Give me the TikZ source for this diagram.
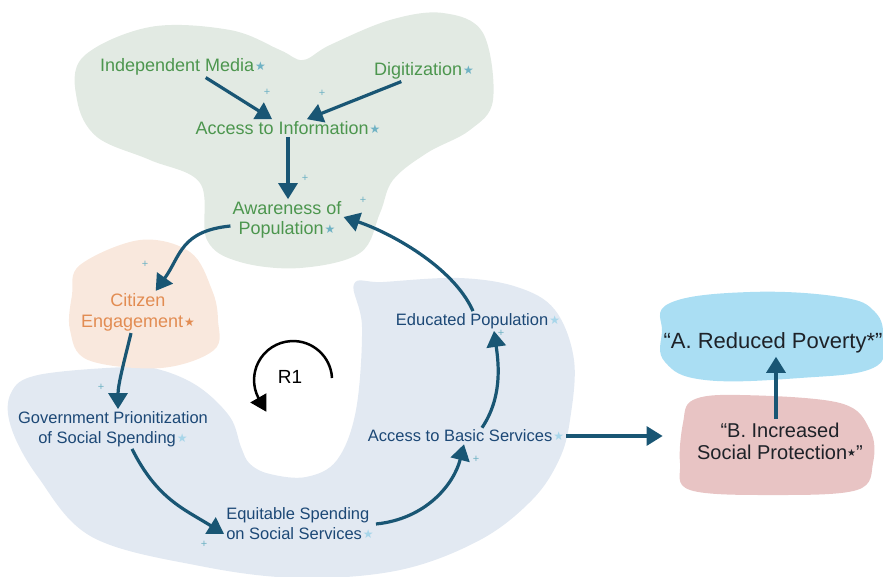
\documentclass[tikz,border=0pt]{standalone}
\usepackage{fontspec}
\setmainfont{Liberation Sans}
\newfontfamily\symfont{DejaVu Sans}
\usetikzlibrary{arrows.meta}
\definecolor{greenblob}{RGB}{226,234,227}
\definecolor{orangeblob}{RGB}{249,232,221}
\definecolor{blueblob}{RGB}{226,233,242}
\definecolor{povertyblob}{RGB}{170,222,243}
\definecolor{protectblob}{RGB}{232,196,196}
\definecolor{greenfont}{RGB}{76,150,78}
\definecolor{orangefont}{RGB}{226,140,82}
\definecolor{bluefont}{RGB}{28,72,118}
\definecolor{arrowblue}{RGB}{25,86,116}
\definecolor{starteal}{RGB}{111,178,196}
\definecolor{starblue}{RGB}{168,214,234}
\definecolor{darktext}{RGB}{30,34,40}
\newcommand{\tstar}[1]{\kern1pt{\color{#1}\symfont\fontsize{12}{12}\selectfont\raisebox{1pt}{★}}}

\begin{document}
\begin{tikzpicture}[x=1pt,y=-1pt,
  greentext/.style={text=greenfont,font=\fontsize{18}{20.5}\selectfont,align=center,inner sep=2pt},
  orangetext/.style={text=orangefont,font=\fontsize{18}{21}\selectfont,align=center,inner sep=2pt},
  bluetext/.style={text=bluefont,font=\fontsize{16.5}{20}\selectfont,align=center,inner sep=2pt},
  flow/.style={draw=arrowblue,line width=3.2pt,-{Triangle[length=16pt,width=19pt]}},
  plus/.style={text=starteal,font=\fontsize{11}{11}\selectfont,inner sep=0pt}]
\useasboundingbox (0,0) rectangle (883,577);

\fill[blueblob] plot[smooth cycle,tension=0.6] coordinates {(11,393) (38,375) (126,367) (161,370) (199,387) (230,417) (241,447) (250,464) (270,474) (306,477) (337,460) (356,410) (362,327) (354,284) (383,282) (459,278) (517,287) (555,310) (574,360) (570,420) (559,460) (532,500) (480,540) (400,570) (300,578) (200,566) (92,537) (38,477) (11,427)};
\fill[orangeblob] plot[smooth cycle,tension=0.6] coordinates {(80,265) (140,240) (190,252) (212,290) (218,320) (214,350) (161,368) (88,360) (70,330) (72,295)};
\fill[greenblob] plot[smooth cycle,tension=0.6] coordinates {(83,57) (150,27) (230,30) (280,50) (303,60) (330,45) (390,20) (443,13) (483,33) (493,100) (470,130) (427,153) (393,180) (380,213) (360,253) (300,268) (240,262) (207,240) (200,183) (150,160) (97,137) (77,100)};
\fill[povertyblob] plot[smooth cycle,tension=0.7] coordinates {(670,303) (750,292) (840,297) (875,312) (883,340) (873,368) (800,378) (705,380) (665,362) (662,332)};
\fill[protectblob] plot[smooth cycle,tension=0.6] coordinates {(693,400) (740,395) (840,403) (870,430) (873,463) (857,490) (773,495) (690,490) (680,463) (683,423)};

\node[greentext] (media) at (183,67) {Independent Media\tstar{starteal}};
\node[greentext] (digit) at (424,71) {Digitization\tstar{starteal}};
\node[greentext] (access) at (288,128) {Access to Information\tstar{starteal}};
\node[greentext] (aware) at (287,220) {Awareness of\\Population\tstar{starteal}};
\node[orangetext] (citizen) at (138,312) {Citizen\\Engagement\tstar{orangefont}};
\node[bluetext] (gov) at (113,429) {Government Prionitization\\of Social Spending\tstar{starblue}};
\node[bluetext,align=left] (equit) at (300,524) {Equitable Spending\\on Social Services\tstar{starblue}};
\node[bluetext] (basic) at (466,436) {Access to Basic Services\tstar{starblue}};
\node[bluetext] (educ) at (478,321) {Educated Population\tstar{starblue}};
\node[font=\fontsize{19}{19}\selectfont] (rone) at (290,377) {R1};
\node[text=darktext,font=\fontsize{22}{22}\selectfont] (poverty) at (773,343) {“A. Reduced Poverty*”};
\node[text=darktext,font=\fontsize{20}{22}\selectfont,align=center] (protect) at (780,441) {“B. Increased\\Social Protection{\symfont\fontsize{10}{10}\selectfont\raisebox{2.5pt}{★}}”};

\foreach \px/\py [count=\i] in {267/92,322/93,305/178,363/200,145/264,101/387,204/544,476/459,501/333}
{
  \node[plus] (plus\i) at (\px,\py) {+};
}

\draw[flow] (media.-25) -- (access.151);
\draw[flow] (digit.-155) -- (access.25);
\draw[flow] (access.south) -- (access.south |- aware.north);
\draw[flow] ([yshift=-6pt]aware.west) .. controls +(-50,5) and +(25,-35) .. (citizen.50);
\draw[flow] ([xshift=-7pt]citizen.south) .. controls +(-6,25) and +(0,-25) .. ([xshift=5pt]gov.north);
\draw[flow] ([xshift=19pt]gov.south) .. controls +(25,50) and +(-40,-25) .. ([yshift=-10pt]equit.west);
\draw[flow] (equit.east) .. controls +(50,-5) and +(-10,40) .. ([xshift=-2pt]basic.south);
\draw[flow] ([xshift=16pt]basic.north) .. controls +(20,-30) and +(5,35) .. ([xshift=16pt]educ.south);
\draw[flow] ([xshift=-5pt]educ.north) .. controls +(-20,-45) and +(45,15) .. ([yshift=3pt]aware.east);
\coordinate (protectin) at ([xshift=-31pt]protect.west);
\draw[flow] (basic.east) -- (protectin |- basic.east);
\draw[flow] ([xshift=-4pt]protect.north) -- ([xshift=-4pt]protect.north |- poverty.south);

\coordinate (loopstart) at (332,378);
\draw[line width=2.5pt,-{Triangle[length=16pt,width=18pt]}] (loopstart) arc[start angle=-3,end angle=-207,radius=39] -- +(8,14);
\end{tikzpicture}
\end{document}
